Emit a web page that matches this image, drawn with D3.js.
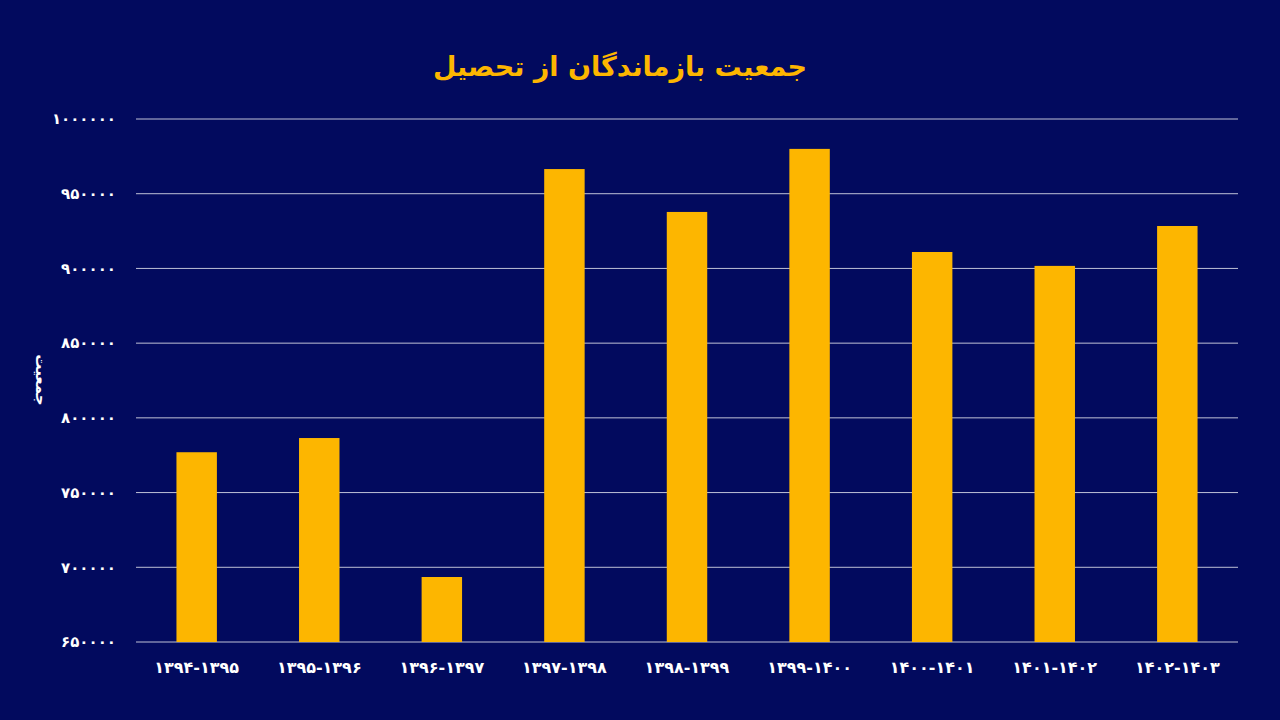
<!DOCTYPE html>
<html><head><meta charset="utf-8">
<script src="https://cdn.jsdelivr.net/npm/d3@7"></script>
<style>body{margin:0;background:#020A5E;}svg{display:block}</style>
</head><body><svg width="1280" height="720"></svg>
<script>
const categories=["۱۳۹۴-۱۳۹۵","۱۳۹۵-۱۳۹۶","۱۳۹۶-۱۳۹۷","۱۳۹۷-۱۳۹۸","۱۳۹۸-۱۳۹۹","۱۳۹۹-۱۴۰۰","۱۴۰۰-۱۴۰۱","۱۴۰۱-۱۴۰۲","۱۴۰۲-۱۴۰۳"];
const values=[777000,786500,693500,966500,937800,980000,911000,901700,928400];
const tickValues=[650000,700000,750000,800000,850000,900000,950000,1000000];
const fa=n=>String(n).replace(/\d/g,d=>"۰۱۲۳۴۵۶۷۸۹"[d]);
const svg=d3.select("svg");
const font="'DejaVu Sans', 'Noto Sans', sans-serif";
const x=d3.scaleBand().domain(categories).range([136,1238]).paddingInner(0.67).paddingOuter(0.33);
const y=d3.scaleLinear().domain([650000,1000000]).range([642,119]);
svg.append("g").selectAll("line").data(tickValues).join("line")
 .attr("x1",136).attr("x2",1238).attr("y1",d=>y(d)).attr("y2",d=>y(d))
 .attr("stroke","#ffffff").attr("stroke-opacity",0.75).attr("stroke-width",1);
svg.append("g").selectAll("text").data(tickValues).join("text")
 .attr("x",116).attr("y",d=>y(d)).attr("dy","0.35em").attr("text-anchor","end")
 .attr("fill","#fff").attr("font-family",font).attr("font-weight","bold").attr("font-size",15)
 .text(d=>fa(d));
svg.append("g").selectAll("rect").data(values).join("rect")
 .attr("x",(d,i)=>x(categories[i])).attr("width",x.bandwidth())
 .attr("y",d=>y(d)).attr("height",d=>y(650000)-y(d)).attr("fill","#FDB600");
svg.append("g").selectAll("text").data(categories).join("text")
 .attr("x",d=>x(d)+x.bandwidth()/2).attr("y",673).attr("text-anchor","middle")
 .attr("fill","#fff").attr("font-family",font).attr("font-weight","bold").attr("font-size",16)
 .text(d=>d);
svg.append("text").attr("transform","translate(36,380) rotate(90)").attr("text-anchor","middle")
 .attr("fill","#fff").attr("font-family","'Noto Sans', 'DejaVu Sans', sans-serif").attr("font-weight","bold").attr("font-size",15).text("جمعیت");
svg.append("text").attr("x",620).attr("y",76).attr("text-anchor","middle")
 .attr("fill","#FDB600").attr("font-family",font).attr("font-weight","bold").attr("font-size",27)
 .text("جمعیت بازماندگان از تحصیل");
</script></body></html>
